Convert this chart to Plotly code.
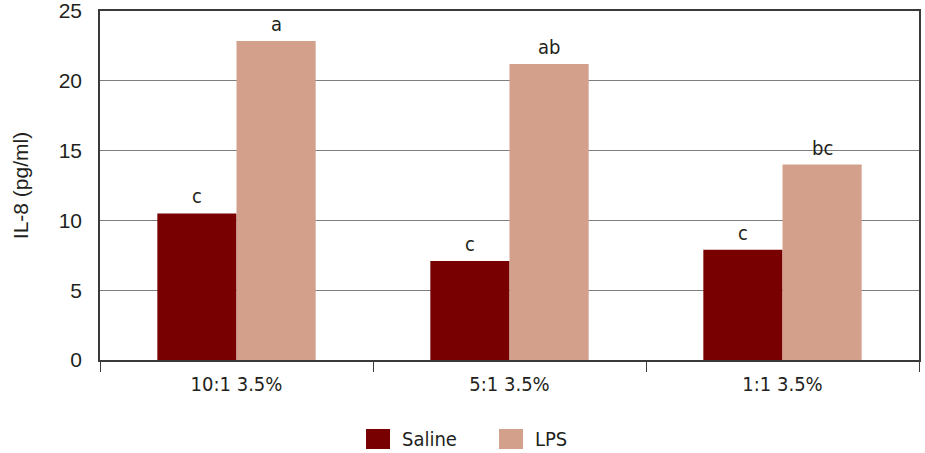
import plotly.graph_objects as go

# IL-8 concentration by mixing ratio, saline vs LPS stimulation
categories = ["10:1 3.5%", "5:1 3.5%", "1:1 3.5%"]
saline = [10.5, 7.1, 7.9]
lps = [22.85, 21.2, 14.0]
saline_letters = ["c", "c", "c"]
lps_letters = ["a", "ab", "bc"]
y_ticks = [0, 5, 10, 15, 20, 25]

SALINE_COLOR = "#780000"
LPS_COLOR = "#D3A08C"
TEXT_COLOR = "#231f20"
NARROW = "Liberation Sans Narrow, DejaVu Sans Condensed, Arial Narrow, sans-serif"
REGULAR = "Liberation Sans, Arial, sans-serif"

fig = go.Figure()
fig.add_trace(go.Bar(name="Saline", x=categories, y=saline,
                     marker=dict(color=SALINE_COLOR, line=dict(width=0)),
                     showlegend=False))
fig.add_trace(go.Bar(name="LPS", x=categories, y=lps,
                     marker=dict(color=LPS_COLOR, line=dict(width=0)),
                     showlegend=False))

# Significance letters above each bar
L, R, T, B = 100, 6, 11, 93
W, H = 925, 453
plot_w = W - L - R
bargap = 0.42
bar_px = plot_w / len(categories) * (1 - bargap) / 2
for cat, v, s in zip(categories, saline, saline_letters):
    fig.add_annotation(x=cat, y=v, text=s, showarrow=False, xshift=-bar_px / 2,
                       yanchor="bottom", yshift=3,
                       font=dict(family=NARROW, size=20, color=TEXT_COLOR))
for cat, v, s in zip(categories, lps, lps_letters):
    fig.add_annotation(x=cat, y=v, text=s, showarrow=False, xshift=bar_px / 2,
                       yanchor="bottom", yshift=3,
                       font=dict(family=NARROW, size=20, color=TEXT_COLOR))

# Legend keys drawn below the axis
plot_h = H - T - B


def px_x(p):
    return (p - L) / plot_w


def px_y(p):
    return (H - B - p) / plot_h


legend_items = [("Saline", SALINE_COLOR, 366), ("LPS", LPS_COLOR, 499)]
for label, color, x0 in legend_items:
    fig.add_shape(type="rect", xref="paper", yref="paper",
                  x0=px_x(x0), x1=px_x(x0 + 24), y0=px_y(429), y1=px_y(449),
                  fillcolor=color, line=dict(width=0))
    fig.add_annotation(xref="paper", yref="paper", x=px_x(x0 + 34), y=px_y(438.5),
                       text=label, showarrow=False, xanchor="left", yanchor="middle",
                       font=dict(family=NARROW, size=20, color=TEXT_COLOR))

fig.update_layout(
    width=W, height=H,
    margin=dict(l=L, r=R, t=T, b=B, autoexpand=False),
    paper_bgcolor="white", plot_bgcolor="white",
    barmode="group", bargap=bargap, bargroupgap=0,
    showlegend=False,
)
fig.update_xaxes(
    showline=True, linecolor="#3a3a3a", linewidth=1.5, mirror=True,
    showgrid=False, tickson="boundaries", ticks="outside", ticklen=10,
    tickcolor="#3a3a3a", tickwidth=1, ticklabelstandoff=5, automargin=False,
    tickfont=dict(family=NARROW, size=20, color=TEXT_COLOR),
)
fig.update_yaxes(
    range=[0, 25], tickvals=y_ticks, showline=True, linecolor="#3a3a3a",
    linewidth=1.5, mirror=True, showgrid=True, gridcolor="#7f7f7f", gridwidth=1,
    ticks="", ticklabelstandoff=12, zeroline=False, ticklabeloverflow="allow",
    automargin=False,
    tickfont=dict(family=REGULAR, size=21, color=TEXT_COLOR),
    title=dict(text="IL-8 (pg/ml)", standoff=24,
               font=dict(family=REGULAR, size=21, color=TEXT_COLOR)),
)

fig.write_html("out.html")
